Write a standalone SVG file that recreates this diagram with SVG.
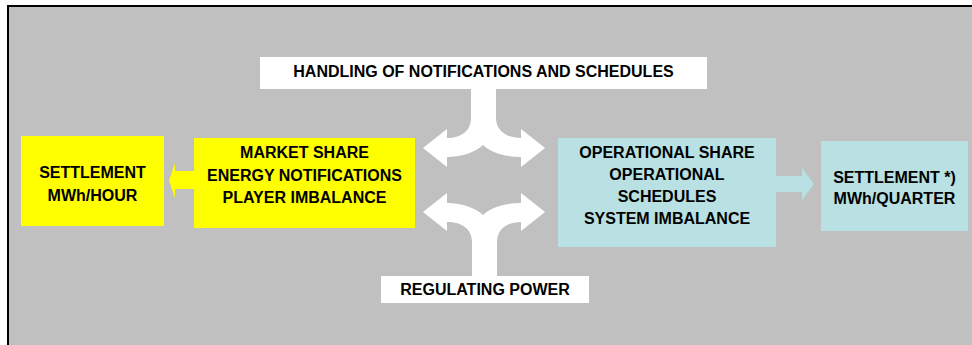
<svg xmlns="http://www.w3.org/2000/svg" width="972" height="345" viewBox="0 0 972 345">
<style>
.t{font-family:"Liberation Sans",Arial,sans-serif;font-weight:bold;font-size:16px;fill:#000;text-anchor:middle}
.yel{fill:#FFFF00}
.blu{fill:#B9E0E2}
.wht{fill:#FFFFFF}
</style>
<rect x="0" y="0" width="972" height="345" fill="#FFFFFF"/>
<rect x="8" y="6" width="980" height="350" fill="#C0C0C0" stroke="#000" stroke-width="2"/>
<g id="connectors">
<path class="wht" d="M471,89 L471,118 C471,131 461,138 447,138 L447,129 L423,148 L447,167 L447,157 C462,157 476,152 483,145 C490,152 504,157 521,157 L521,167 L545,148 L521,129 L521,138 C507,138 496,131 496,118 L496,89 Z"/>
<path class="wht" d="M472,276 L472,242 C472,229 462,222 447,222 L447,231 L423,212 L447,193 L447,203 C462,203 476,208 483,215 C490,208 504,203 521,203 L521,193 L545,212 L521,231 L521,222 C507,222 497,229 497,242 L497,276 Z"/>
<path class="yel" d="M194,171 L175,171 L175,163 L169,180.5 L175,198 L175,189 L194,189 Z"/>
<path class="blu" d="M776,176 L802,176 L802,168 L814,184 L802,200 L802,192 L776,192 Z"/>
</g>
<g id="handling">
<rect class="wht" x="260" y="57" width="447" height="32"/>
<text class="t" x="483.5" y="77">HANDLING OF NOTIFICATIONS AND SCHEDULES</text>
</g>
<g id="regulating">
<rect class="wht" x="381" y="276" width="208" height="27"/>
<text class="t" x="485" y="295">REGULATING POWER</text>
</g>
<g id="settlement-hour">
<rect class="yel" x="21" y="136" width="143" height="90"/>
<text class="t" x="92.5" y="178">SETTLEMENT</text>
<text class="t" x="92.5" y="201">MWh/HOUR</text>
</g>
<g id="market-share">
<rect class="yel" x="194" y="138" width="221" height="90"/>
<text class="t" x="304.5" y="158">MARKET SHARE</text>
<text class="t" x="304.5" y="180.5">ENERGY NOTIFICATIONS</text>
<text class="t" x="304.5" y="203">PLAYER IMBALANCE</text>
</g>
<g id="operational-share">
<rect class="blu" x="558" y="138" width="218" height="109"/>
<text class="t" x="667" y="158">OPERATIONAL SHARE</text>
<text class="t" x="667" y="180">OPERATIONAL</text>
<text class="t" x="667" y="202">SCHEDULES</text>
<text class="t" x="667" y="224">SYSTEM IMBALANCE</text>
</g>
<g id="settlement-quarter">
<rect class="blu" x="821" y="141" width="147" height="90"/>
<text class="t" x="894.5" y="183">SETTLEMENT *)</text>
<text class="t" x="894.5" y="204">MWh/QUARTER</text>
</g>
</svg>
